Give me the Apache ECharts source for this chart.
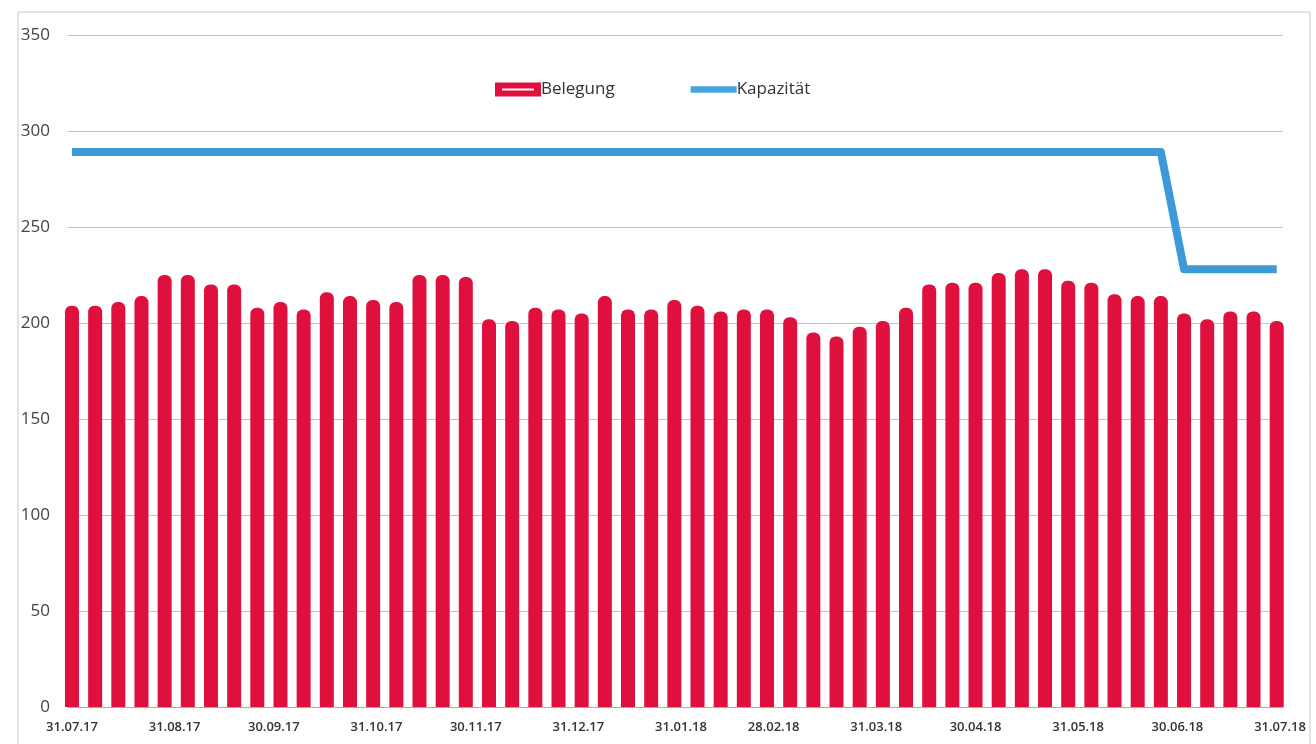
<!DOCTYPE html>
<html>
<head>
<meta charset="utf-8">
<script src="https://cdn.jsdelivr.net/npm/echarts@6/dist/echarts.min.js"></script>
<style>
html,body{margin:0;padding:0;background:#fff;}
#c{width:1316px;height:744px;}
</style>
</head>
<body>
<div id="c"></div>
<script>
// weekly dates of the bars
var weeks = ['2017-07-31','2017-08-07','2017-08-14','2017-08-21','2017-08-28','2017-09-04','2017-09-11','2017-09-18','2017-09-25',
'2017-10-02','2017-10-09','2017-10-16','2017-10-23','2017-10-30','2017-11-06','2017-11-13','2017-11-20','2017-11-27',
'2017-12-04','2017-12-11','2017-12-18','2017-12-25','2018-01-01','2018-01-08','2018-01-15','2018-01-22','2018-01-29',
'2018-02-05','2018-02-12','2018-02-19','2018-02-26','2018-03-05','2018-03-12','2018-03-19','2018-03-26','2018-04-02',
'2018-04-09','2018-04-16','2018-04-23','2018-04-30','2018-05-07','2018-05-14','2018-05-21','2018-05-28','2018-06-04',
'2018-06-11','2018-06-18','2018-06-25','2018-07-02','2018-07-09','2018-07-16','2018-07-23','2018-07-30'];
var belegung = [209,209,211,214,225,225,220,220,208,211,207,216,214,212,211,225,225,224,202,201,208,207,205,214,207,207,212,209,206,207,207,203,195,193,198,201,208,220,221,221,226,228,228,222,221,215,214,214,205,202,206,206,201];
var kapazitaet = [289,289,289,289,289,289,289,289,289,289,289,289,289,289,289,289,289,289,289,289,289,289,289,289,289,289,289,289,289,289,289,289,289,289,289,289,289,289,289,289,289,289,289,289,289,289,289,289,228,228,228,228,228];
// x-axis tick labels (month ends)
var tickDates = ['2017-07-31','2017-08-31','2017-09-30','2017-10-31','2017-11-30','2017-12-31','2018-01-31','2018-02-28','2018-03-31','2018-04-30','2018-05-31','2018-06-30','2018-07-31'];
var tickLabels = ['31.07.17','31.08.17','30.09.17','31.10.17','30.11.17','31.12.17','31.01.18','28.02.18','31.03.18','30.04.18','31.05.18','30.06.18','31.07.18'];

var DAY = 86400000;
function dayNo(s){var p=s.split('-');return Math.round(Date.UTC(+p[0],+p[1]-1,+p[2])/DAY);}
var start = dayNo(weeks[0]);
function off(s){return dayNo(s)-start;}
var tickOffsets = tickDates.map(off);

var chart = echarts.init(document.getElementById('c'));
var font = "'Open Sans', sans-serif";
chart.setOption({
  animation:false,
  backgroundColor:'#fff',
  graphic:[{type:'rect',shape:{x:18,y:12,width:1292,height:760},style:{fill:'none',stroke:'#c8c8c8',lineWidth:1}}],
  legend:{
    left:490, top:76, itemGap:76,
    textStyle:{fontFamily:font,fontSize:17,color:'#333',padding:[0,0,0,-5]},
    data:[
      {name:'Belegung',icon:'path://M0,0 H46 V14 H0 Z M7,6 V8 H39 V6 Z',itemStyle:{color:'#e0103e'}},
      {name:'Kapazität',icon:'path://M0,0 H44 V6 H0 Z',itemStyle:{color:'#4aa3df'}}
    ],
    itemWidth:46,itemHeight:15
  },
  grid:{left:68,right:33,top:35,bottom:37,containLabel:false},
  xAxis:{
    type:'value',
    min:-1.2,
    max:tickOffsets[tickOffsets.length-1]+0.9,
    splitLine:{show:false},
    axisLine:{show:true,onZero:false,lineStyle:{color:'#aaa'}},
    axisTick:{show:false},
    axisLabel:{
      customValues:tickOffsets,
      margin:14,fontFamily:font,fontSize:13,color:'#333',fontWeight:600,
      formatter:function(v){var i=tickOffsets.indexOf(Math.round(v));return i>=0?tickLabels[i]:'';}
    }
  },
  yAxis:{
    type:'value',min:0,max:350,interval:50,
    axisLine:{show:false},axisTick:{show:false},
    splitLine:{lineStyle:{color:'#c2c2c2',width:1}},
    axisLabel:{margin:18,fontFamily:font,fontSize:17,color:'#444'}
  },
  series:[
    {name:'Belegung',type:'bar',barWidth:14,
     itemStyle:{color:'#e0103e',borderRadius:[6,6,0,0]},
     data:weeks.map(function(w,i){return [off(w),belegung[i]];})},
    {name:'Kapazität',type:'line',symbol:'none',
     lineStyle:{color:'#3d9ad8',width:8,join:'round'},
     itemStyle:{color:'#3d9ad8'},
     data:weeks.map(function(w,i){return [off(w),kapazitaet[i]];})}
  ]
});
</script>
</body>
</html>
